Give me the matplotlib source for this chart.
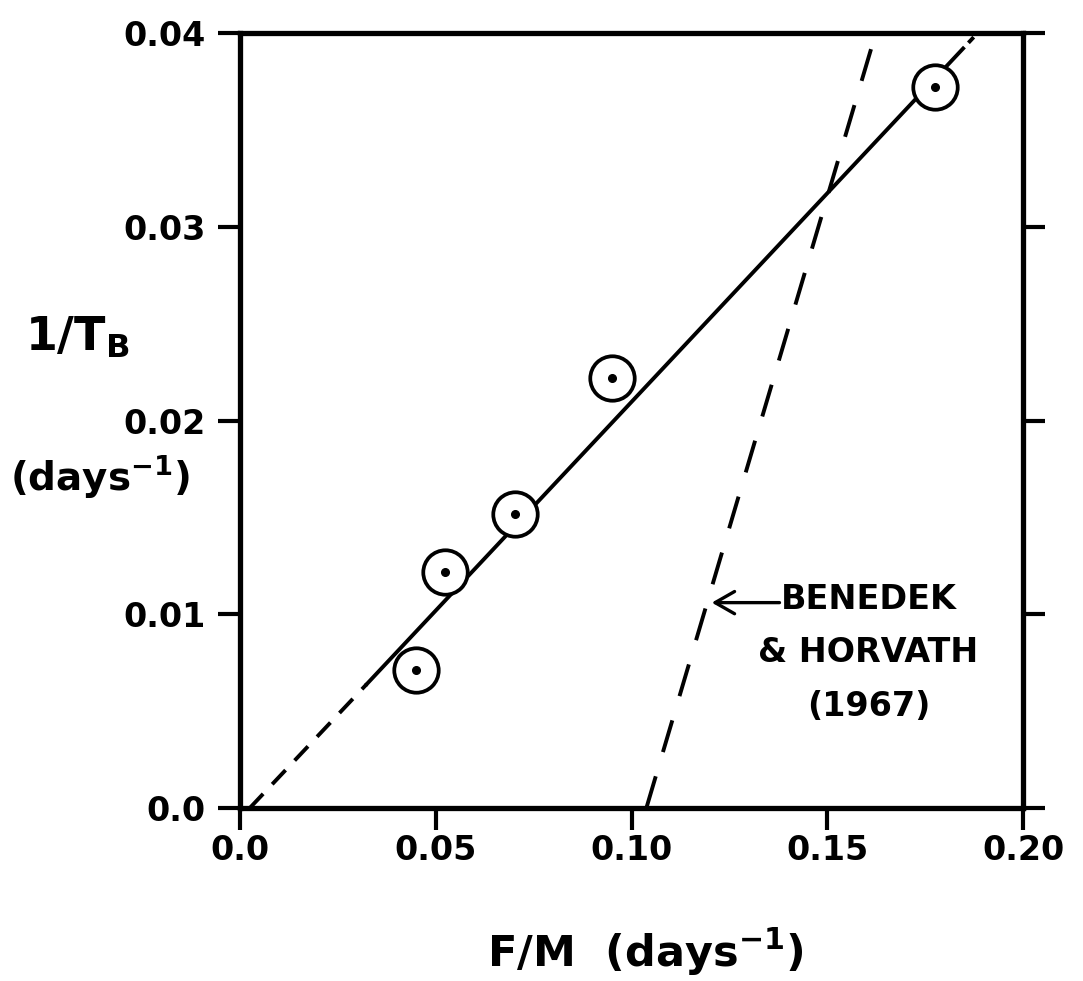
import matplotlib
matplotlib.use("Agg")
import matplotlib.pyplot as plt

plt.rcParams['font.family'] = ['DejaVu Sans']
plt.rcParams['font.weight'] = 'bold'
plt.rcParams['mathtext.default'] = 'regular'

# ---- data ----
fm = [0.0450, 0.0524, 0.0702, 0.0950, 0.1775]          # F/M (days^-1)
inv_tb = [0.0071, 0.0122, 0.0152, 0.0222, 0.0372]      # 1/T_B (days^-1)

fit_dash_x = [0.0025, 0.0324]
fit_dash_y = [0.0, 0.0064]
fit_solid_x = [0.0324, 0.1847]
fit_solid_y = [0.0064, 0.0392]
fit_ext_x = [0.1847, 0.1884]
fit_ext_y = [0.0392, 0.0400]

bh_x = [0.1038, 0.1624]      # Benedek & Horvath (1967)
bh_y = [0.0, 0.0400]

xticks = [0.0, 0.05, 0.10, 0.15, 0.20]
xtick_labels = ["0.0", "0.05", "0.10", "0.15", "0.20"]
yticks = [0.0, 0.01, 0.02, 0.03, 0.04]
ytick_labels = ["0.0", "0.01", "0.02", "0.03", "0.04"]

W, H = 1083, 981
fig = plt.figure(figsize=(W / 100, H / 100), dpi=100)
ax = fig.add_axes([240 / W, 1 - 808 / H, (1023 - 240) / W, (808 - 33) / H])

ax.set_xlim(0, 0.20)
ax.set_ylim(0, 0.04)

lw = 2.8
ax.plot(fit_dash_x, fit_dash_y, color='black', lw=lw, dashes=(5.0, 3.4),
        dash_capstyle='butt', zorder=2)
ax.plot(fit_solid_x, fit_solid_y, color='black', lw=lw, zorder=2)
ax.plot(fit_ext_x, fit_ext_y, color='black', lw=lw,
        linestyle=(2.0, (2.0, 2.0)), dash_capstyle='butt', zorder=2)
ax.plot(bh_x, bh_y, color='black', lw=lw, dashes=(8.5, 6.5),
        dash_capstyle='butt', zorder=2)

ax.plot(fm, inv_tb, 'o', ms=32, mfc='white', mec='black', mew=2.7, zorder=3,
        linestyle='none')
ax.plot(fm, inv_tb, 'o', ms=5.5, color='black', zorder=4, linestyle='none')

# annotation
ax.annotate('', xy=(0.1205, 0.0106), xytext=(0.1378, 0.0106),
            arrowprops=dict(arrowstyle='->, head_length=0.7, head_width=0.4',
                            lw=2.4, color='black', mutation_scale=20,
                            shrinkA=0, shrinkB=0), zorder=5)
ax.text(0.1605, 0.0080, "BENEDEK\n& HORVATH\n(1967)", ha='center', va='center',
        fontsize=24, fontweight='bold', linespacing=1.8)

# spines & ticks
for s in ax.spines.values():
    s.set_linewidth(3.8)
ax.set_xticks(xticks)
ax.set_xticklabels(xtick_labels)
ax.set_yticks(yticks)
ax.set_yticklabels(ytick_labels)
ax.tick_params(axis='both', which='major', direction='out', length=16, width=3,
               labelsize=24)
ax.tick_params(axis='x', pad=3, top=False, bottom=True)
ax.tick_params(axis='y', pad=9, right=True, left=True, labelright=False)
for lab in ax.get_xticklabels() + ax.get_yticklabels():
    lab.set_fontweight('bold')

# axis labels
fig.text(25 / W, 1 - 350 / H, "1/T$_{\\mathregular{B}}$", fontsize=33,
         fontweight='bold', ha='left', va='baseline')
fig.text(10 / W, 1 - 490 / H, "(days$^{-1}$)", fontsize=28,
         fontweight='bold', ha='left', va='baseline')
fig.text(645 / W, 1 - 967 / H, "F/M  (days$^{-1}$)", fontsize=31,
         fontweight='bold', ha='center', va='baseline')

fig.savefig("out.png", dpi=100)
